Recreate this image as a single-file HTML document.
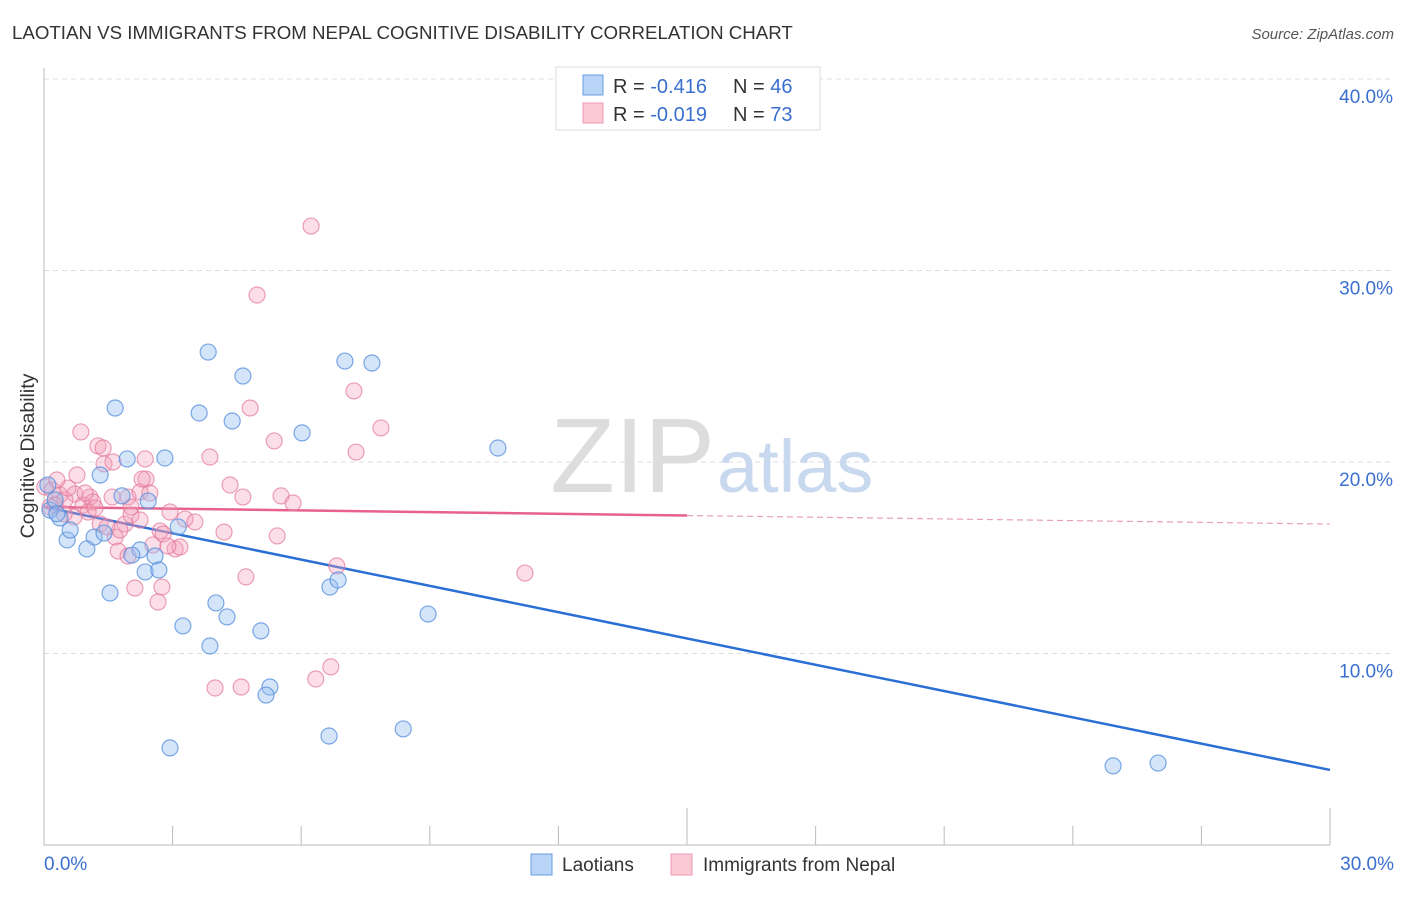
<!DOCTYPE html>
<html><head><meta charset="utf-8"><style>
body{margin:0;background:#fff;font-family:"Liberation Sans",sans-serif}
svg text{font-family:"Liberation Sans",sans-serif}
</style></head><body>
<svg id="chart" width="1406" height="892" xmlns="http://www.w3.org/2000/svg">
<text x="12" y="39" font-size="18.7" fill="#333">LAOTIAN VS IMMIGRANTS FROM NEPAL COGNITIVE DISABILITY CORRELATION CHART</text>
<text x="1394" y="39" font-size="15" fill="#555" font-style="italic" text-anchor="end">Source: ZipAtlas.com</text>
<g id="grid"></g>
<text x="715" y="492" font-size="106" fill="#ddd" text-anchor="end" font-family="Liberation Serif">ZIP</text>
<text x="717" y="492" font-size="74" fill="#c8d8ee">atlas</text>
<g id="axes"></g>
<text transform="translate(34,456) rotate(-90)" font-size="19.5" fill="#333" text-anchor="middle">Cognitive Disability</text>
<g id="trend"></g>
<g id="pts"></g>
<g>
<rect x="556" y="67" width="264" height="63" fill="#fff" stroke="#ddd"/>
<rect x="583" y="75" width="20" height="20" fill="#b8d4f6" stroke="#6a9ee0"/>
<rect x="583" y="103" width="20" height="20" fill="#fbc8d6" stroke="#eb9ab2"/>
<text x="613" y="93" font-size="20" fill="#333">R = <tspan fill="#3a6fd0">-0.416</tspan></text>
<text x="733" y="93" font-size="20" fill="#333">N = <tspan fill="#3a6fd0">46</tspan></text>
<text x="613" y="121" font-size="20" fill="#333">R = <tspan fill="#3a6fd0">-0.019</tspan></text>
<text x="733" y="121" font-size="20" fill="#333">N = <tspan fill="#3a6fd0">73</tspan></text>
</g>
<g>
<rect x="531" y="854" width="21" height="21" fill="#b8d4f6" stroke="#6a9ee0"/>
<text x="562" y="871" font-size="19" fill="#333">Laotians</text>
<rect x="671" y="854" width="21" height="21" fill="#fbc8d6" stroke="#eb9ab2"/>
<text x="703" y="871" font-size="19" fill="#333">Immigrants from Nepal</text>
</g>
</svg>
<script>
const yTicks=[10,20,30,40];
const yTickLabels=["10.0%","20.0%","30.0%","40.0%"];
const blueX=[3.83,4.64,1.66,3.62,4.39,6.02,7.02,7.65,10.59,1.94,2.82,1.31,1.82,2.43,3.13,1.17,0.54,1.00,1.40,0.37,0.14,2.59,2.24,2.05,2.36,2.68,1.54,3.24,4.01,4.27,5.06,3.87,5.27,5.18,6.67,6.86,8.96,6.65,8.38,2.94,24.94,25.99,0.09,0.26,0.61,0.3];
const blueY=[25.74,24.49,22.82,22.56,22.14,21.52,25.27,25.17,20.73,20.16,20.21,19.32,18.23,17.96,16.61,16.08,15.93,15.46,16.29,17.08,17.49,15.09,15.41,15.14,14.26,14.36,13.16,11.44,12.64,11.91,11.18,10.39,8.25,7.83,13.47,13.84,12.06,5.69,6.06,5.07,4.13,4.28,18.80,18.02,16.45,17.3];
const pinkX=[6.23,4.97,7.23,4.81,7.86,0.86,7.28,1.26,1.38,3.87,1.40,1.61,2.36,5.37,4.34,4.64,5.53,5.81,0.02,0.19,0.37,0.72,1.07,0.14,0.49,0.91,1.14,1.59,1.96,2.24,2.38,2.29,2.94,3.29,2.71,1.89,1.66,2.03,1.31,1.03,0.70,0.47,1.73,1.96,2.54,2.78,3.06,3.17,4.20,5.44,4.71,2.12,2.75,2.66,3.99,4.60,6.34,6.69,6.83,11.22,0.96,1.19,2.47,2.03,1.77,0.26,0.56,1.47,3.52,2.24,0.77,0.30,2.89];
const pinkY=[32.32,28.72,23.71,22.82,21.78,21.57,20.52,20.84,20.73,20.26,19.90,20.00,20.16,21.10,18.80,18.17,18.23,17.86,18.70,18.54,18.28,18.33,18.17,17.65,18.02,17.75,17.91,18.17,18.17,18.43,19.11,19.11,17.39,17.02,16.40,16.76,16.08,17.65,16.76,17.39,17.13,17.29,15.35,15.09,15.67,16.24,15.46,15.56,16.34,16.14,14.00,13.42,13.47,12.69,8.20,8.25,8.67,9.30,14.57,14.20,18.38,17.60,18.38,17.23,16.45,17.75,18.64,16.61,16.87,16.97,19.32,19.06,15.61];
const blueTrend=[17.65,3.92];
const pinkTrend=[17.65,16.76];
const xMax=30;
const NS="http://www.w3.org/2000/svg";
const X=v=>44+v/xMax*1286;
const Y=v=>845-v/10*191.5;
function mk(tag,attrs,parent){const e=document.createElementNS(NS,tag);for(const k in attrs)e.setAttribute(k,attrs[k]);parent.appendChild(e);return e;}
const grid=document.getElementById('grid'),axes=document.getElementById('axes'),trend=document.getElementById('trend'),pts=document.getElementById('pts');
yTicks.forEach((t,i)=>{
 const l=mk('line',{x1:44,x2:1394,y1:Y(t),y2:Y(t),stroke:'#ddd','stroke-dasharray':'5,4'},grid);
 
 
 const tx=mk('text',{x:1393,y:Y(t)+24,'font-size':19,fill:'#3a6fd0','text-anchor':'end'},axes);
 tx.textContent=yTickLabels[i];
 
 
});
mk('line',{x1:44,x2:44,y1:68,y2:845,stroke:'#bbb'},axes);
mk('line',{x1:44,x2:1330,y1:845,y2:845,stroke:'#bbb'},axes);
for(let i=1;i<=10;i++){
 const tk=mk('line',{x1:X(i*3),x2:X(i*3),y1:(i%5==0)?808:826,y2:845,stroke:'#bbb'},axes);
 
 
}
const xl0=mk('text',{x:44,y:870,'font-size':19,fill:'#3a6fd0'},axes);xl0.textContent='0.0%';


const xl1=mk('text',{x:1394,y:870,'font-size':19,fill:'#3a6fd0','text-anchor':'end'},axes);xl1.textContent='30.0%';


const bt=mk('line',{x1:X(0),y1:Y(blueTrend[0]),x2:X(30),y2:Y(blueTrend[1]),stroke:'#2a6fd6','stroke-width':2.5},trend);


const pm=pinkTrend[0]+(pinkTrend[1]-pinkTrend[0])*0.5;
const pt=mk('line',{x1:X(0),y1:Y(pinkTrend[0]),x2:X(15),y2:Y(pm),stroke:'#e8608c','stroke-width':2.5},trend);


const pd=mk('line',{x1:X(15),y1:Y(pm),x2:X(30),y2:Y(pinkTrend[1]),stroke:'#e8a0b8','stroke-width':1.2,'stroke-dasharray':'6,4'},trend);


pinkX.forEach((v,i)=>{
 const c=mk('circle',{cx:X(v),cy:Y(pinkY[i]),r:8,fill:'rgba(244,160,186,0.35)',stroke:'rgba(228,120,155,0.7)','stroke-width':1.2},pts);
 
 
});
blueX.forEach((v,i)=>{
 const c=mk('circle',{cx:X(v),cy:Y(blueY[i]),r:8,fill:'rgba(150,190,240,0.4)',stroke:'rgba(80,140,220,0.75)','stroke-width':1.2},pts);
 
 
});
</script>
</body></html>
